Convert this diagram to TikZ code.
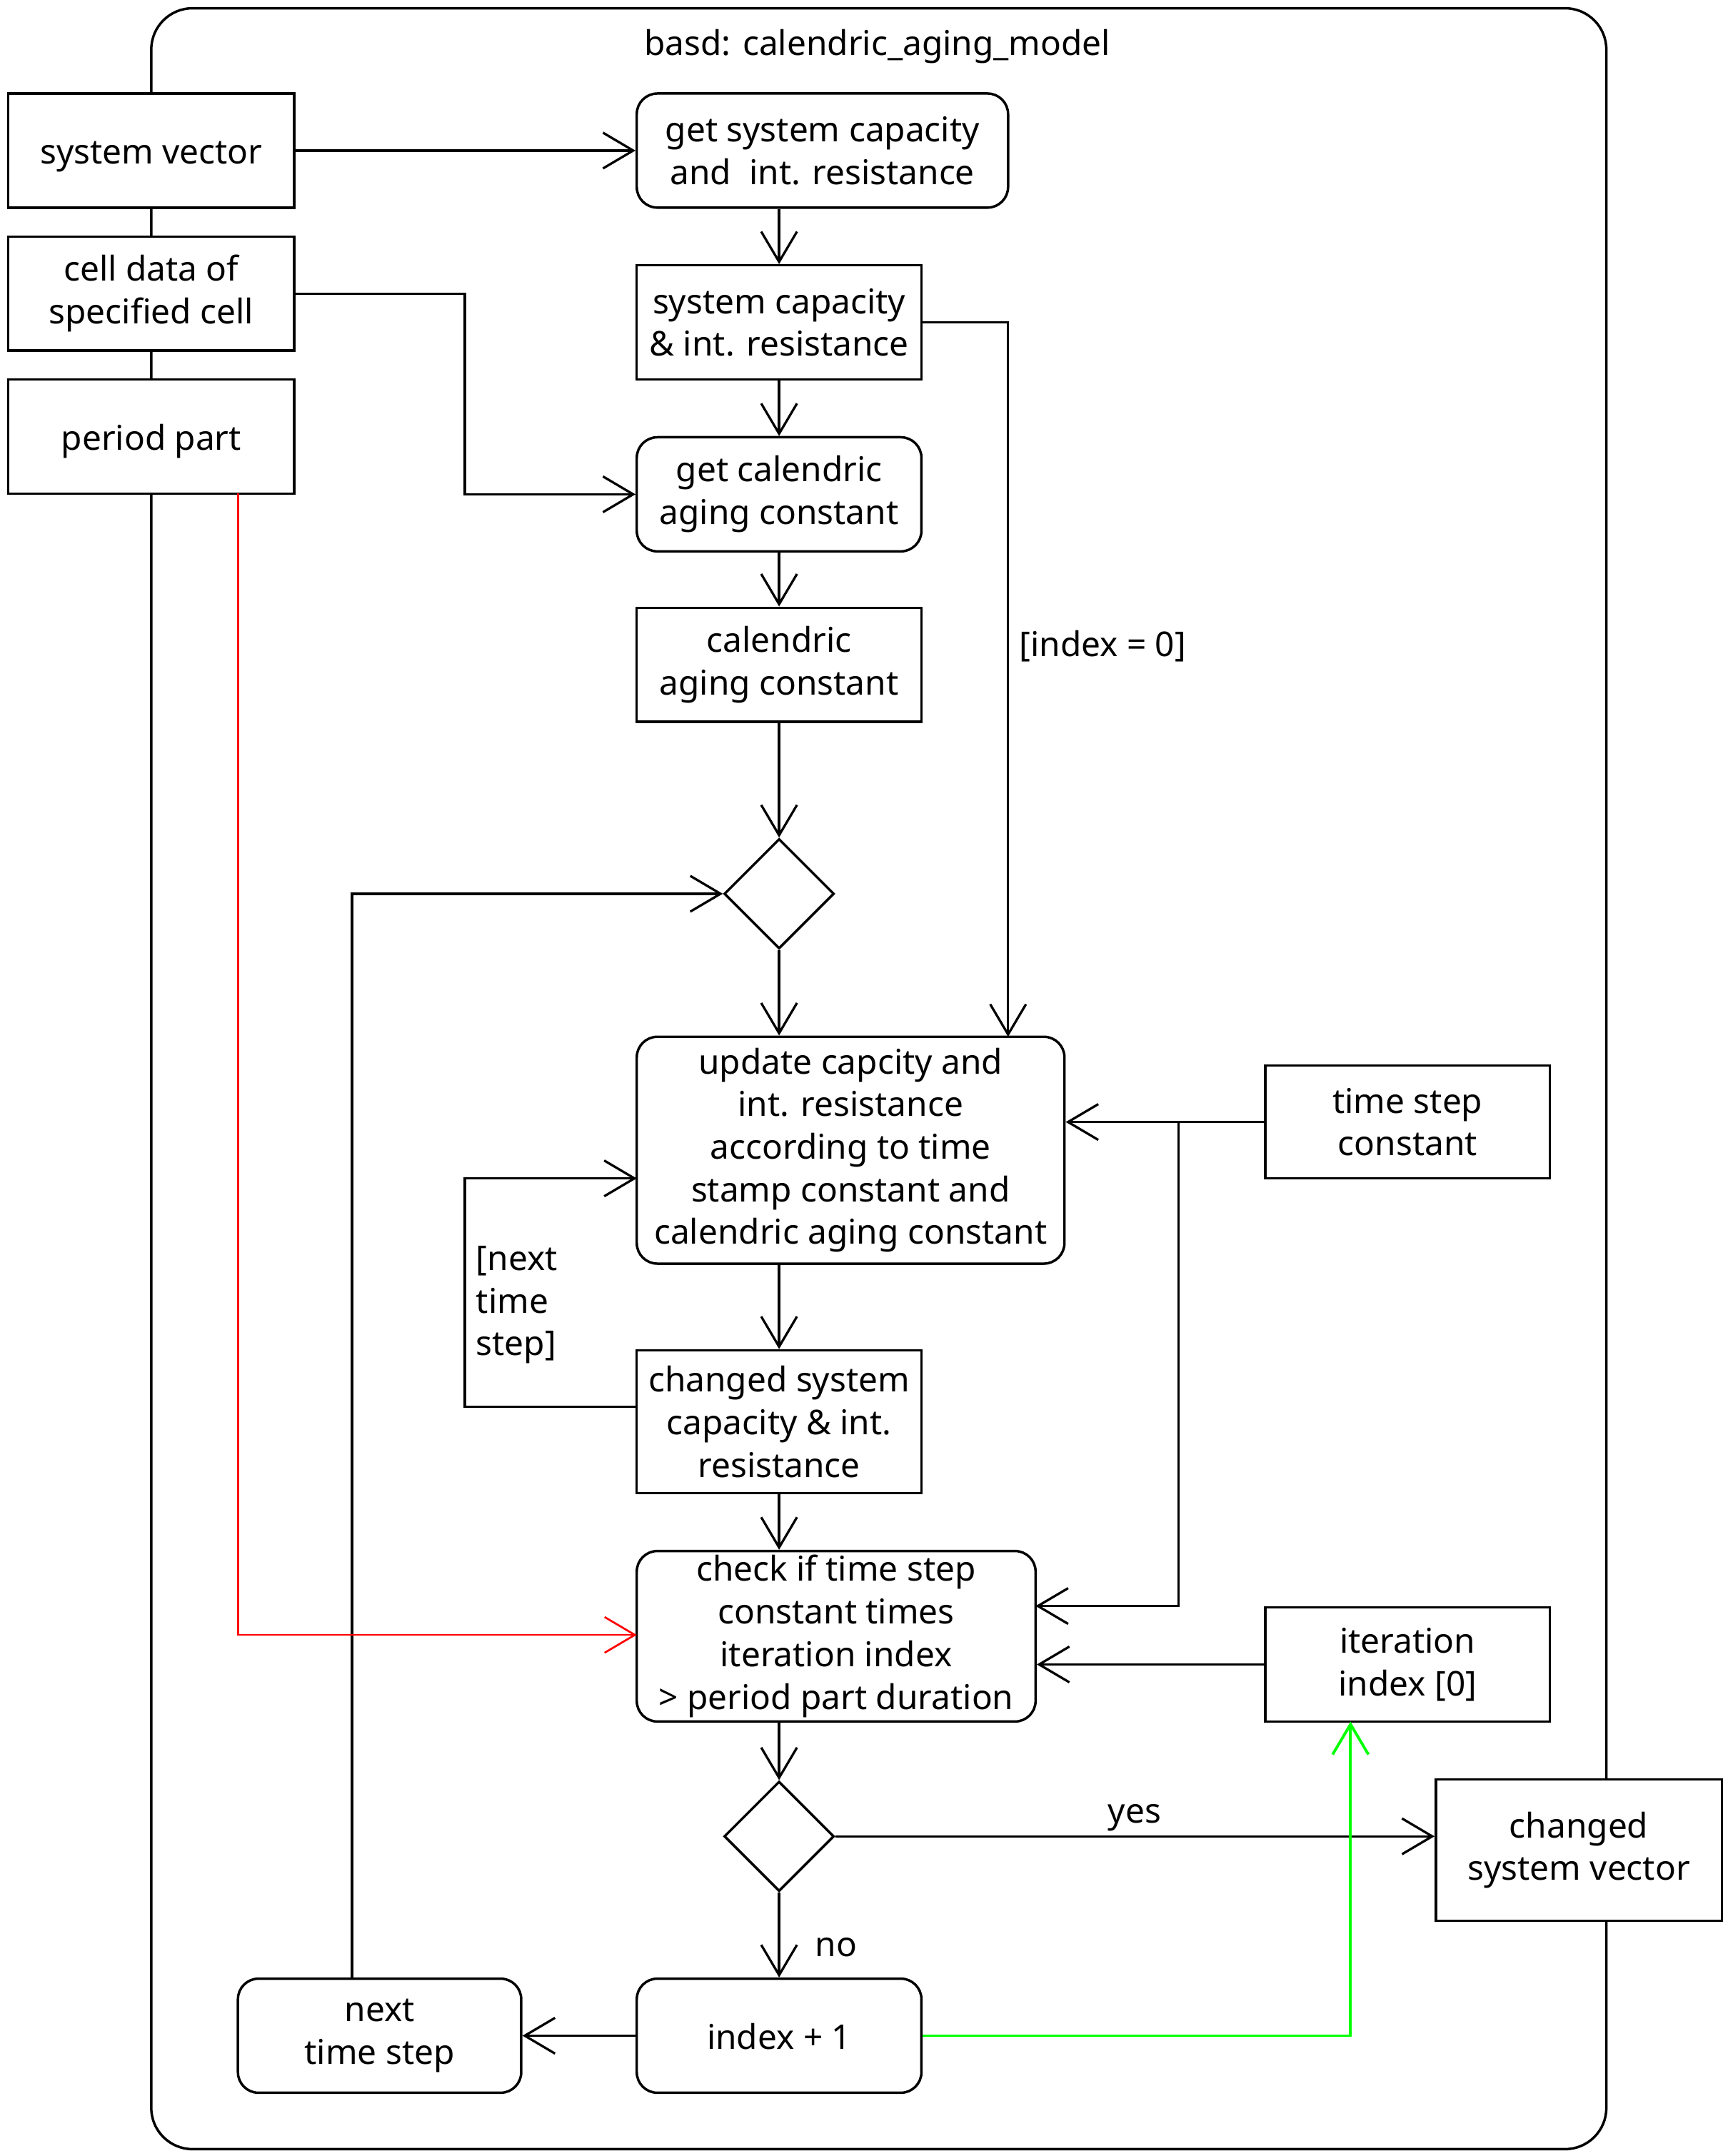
\documentclass[tikz,border=0pt]{standalone}
\usepackage{fontspec}
\setmainfont{Noto Sans}
\usetikzlibrary{arrows.meta,shapes.geometric}
\newcommand{\mystrut}{\rule[-0.293em]{0pt}{1.362em}}
\begin{document}
\begin{tikzpicture}[x=1pt,y=-1pt,
  base/.style={draw, line width=1.8pt, fill=white, align=center, inner sep=0pt,
    font=\fontsize{24.8}{31}\selectfont},
  act/.style={base, rounded corners=15pt},
  obj/.style={base},
  dec/.style={base, shape=diamond, minimum width=80pt, minimum height=80pt},
  lbl/.style={inner sep=0pt, font=\fontsize{24.8}{31}\selectfont},
  flow/.style={line width=1.7pt, -{Straight Barb[length=22pt,width=26pt]}},
  redflow/.style={flow, draw=red, line width=1.4pt},
  greenflow/.style={flow, draw={rgb,255:red,0;green,255;blue,0}, line width=2pt},
  frame/.style={draw, line width=1.8pt, rounded corners=30pt, inner sep=0pt}
]
\useasboundingbox (0,0) rectangle (1256,1568);
% frame
\node[frame, minimum width=1058pt, minimum height=1557pt] (frm) at (639,784.5) {};
\node[lbl] (title) at (638,34) {basd: calendric\_aging\_model};
% parameter nodes
\node[obj, minimum width=208pt, minimum height=83pt] (sv) at (110,109.5) {\mystrut system vector};
\node[obj, minimum width=208pt, minimum height=83pt] (cd) at (110,213.5) {cell data of\\specified cell};
\node[obj, minimum width=208pt, minimum height=83pt] (pp) at (110,317.5) {\mystrut period part};
\node[obj, minimum width=208pt, minimum height=103pt] (csv) at (1148,1345.5) {changed\\system vector};
% main column
\node[act, minimum width=270pt, minimum height=83pt] (gsc) at (598,109.5) {get system capacity\\and\ \ int. resistance};
\node[obj, minimum width=207pt, minimum height=83pt] (sc) at (566.5,234.5) {system capacity\\\& int. resistance};
\node[act, minimum width=207pt, minimum height=83pt] (gcal) at (566.5,359.5) {get calendric\\aging constant};
\node[obj, minimum width=207pt, minimum height=83pt] (cal) at (566.5,483.5) {calendric\\aging constant};
\node[dec] (d1) at (566.5,650) {};
\node[act, minimum width=311pt, minimum height=165pt] (upd) at (618.5,836.5) {update capcity and\\int. resistance\\according to time\\stamp constant and\\calendric aging constant};
\node[obj, minimum width=207pt, minimum height=104pt] (csc) at (566.5,1034) {changed system\\capacity \& int.\\resistance};
\node[act, minimum width=290pt, minimum height=124pt] (chk) at (608,1190) {check if time step\\constant times\\iteration index\\> period part duration};
\node[dec] (d2) at (566.5,1335.5) {};
\node[act, minimum width=207pt, minimum height=83pt] (inc) at (566.5,1480.5) {\mystrut index + 1};
\node[act, minimum width=206pt, minimum height=83pt] (nts) at (276,1480.5) {next\\time step};
\node[obj, minimum width=207pt, minimum height=82pt] (tsc) at (1023.5,816) {time step\\constant};
\node[obj, minimum width=207pt, minimum height=83pt] (itr) at (1023.5,1210.5) {iteration\\index [0]};
% helper coordinates
\coordinate (uTop) at (733,754);
\coordinate (ntsTop) at (256,1439);
\coordinate (cscW) at (463,1023);
\coordinate (updW) at (463,857);
\coordinate (br) at (857,816);
\coordinate (chkE1) at (753,1168);
\coordinate (ppB) at (173,359);
\coordinate (chkW) at (463,1189);
\coordinate (itrB) at (982,1252);
\coordinate (jx) at (338,213.5);
\coordinate (jy) at (338,1023);
% connectors
\draw[flow] (sv.east) -- (gsc.west);
\draw[flow] (sc.north |- gsc.south) -- (sc.north);
\draw[flow] (cd.east) -- (jx) |- (gcal.west);
\draw[flow] (sc.south) -- (gcal.north);
\draw[flow] (gcal.south) -- (cal.north);
\draw[flow] (cal.south) -- (d1.north);
\draw[flow] (sc.east) -| (uTop);
\node[lbl, anchor=west] (l0) at (741,470) {[index = 0]};
\draw[flow] (d1.south) -- (d1.south |- upd.north);
\draw[flow] (ntsTop) |- (d1.west);
\draw[flow] (csc.north |- upd.south) -- (csc.north);
\draw[flow] (cscW) -- (jy) |- (updW);
\node[lbl, anchor=west, align=left] (lnext) at (346,949) {[next\\time\\step]};
\draw[flow] (tsc.west) -- (tsc.west -| upd.east);
\draw[flow] (br) |- (chkE1);
\draw[flow] (itr.west) -- (itr.west -| chk.east);
\draw[flow] (csc.south) -- (csc.south |- chk.north);
\draw[redflow] (ppB) |- (chkW);
\draw[flow] (d2.north |- chk.south) -- (d2.north);
\draw[flow] (d2.east) -- (csv.west |- d2.east);
\node[lbl] (lyes) at (825,1322) {yes};
\draw[flow] (d2.south) -- (inc.north);
\node[lbl] (lno) at (608,1416) {no};
\draw[flow] (inc.west) -- (nts.east);
\draw[greenflow] (inc.east) -| (itrB);
\end{tikzpicture}
\end{document}
